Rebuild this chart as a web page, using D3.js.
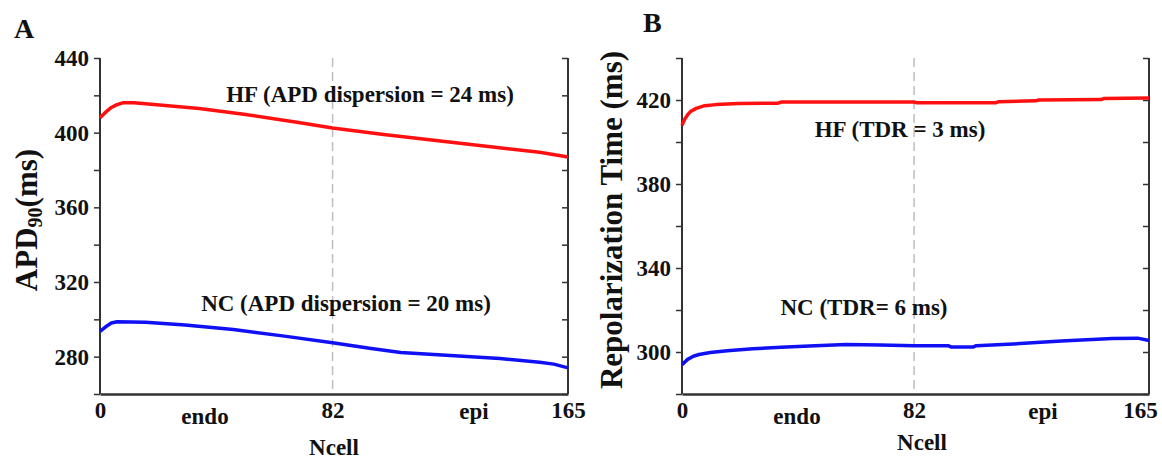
<!DOCTYPE html>
<html>
<head>
<meta charset="utf-8">
<script src="https://cdn.jsdelivr.net/npm/d3@7"></script>
<style>
    body { margin: 0; background: #fff; }
    svg text { font-family: 'Liberation Serif', 'Tinos', 'DejaVu Serif', serif; font-weight: bold; fill: #111; }
</style>
</head>
<body>
<svg id="chart" width="1162" height="459"></svg>
<script>

// panel A : APD90 along the strand
var apd_hf_cells = [0, 2, 4, 6, 8, 12, 20, 35, 50, 70, 82, 100, 120, 140, 155, 165];
var apd_hf = [408, 411, 413.5, 415, 416, 416, 415, 413, 410, 405.5, 402.5, 399, 395.5, 392, 389.5, 387];

var apd_nc_cells = [0, 2, 4, 6, 16, 30, 47, 65, 82, 95, 106, 125, 141, 155, 160, 165];
var apd_nc = [293.5, 296, 298, 298.7, 298.5, 297, 294.5, 291, 287.4, 284.5, 282.2, 280.5, 279, 277, 276, 274];

// panel B : repolarization time
var rt_hf_cells = [0, 1, 2, 3, 5, 8, 12, 20, 34, 35, 82, 83, 111, 112, 125, 126, 148, 149, 165];
var rt_hf = [408, 411, 413, 414.5, 416, 417.3, 417.8, 418.3, 418.5, 419, 419, 418.7, 418.7, 419.2, 419.6, 420, 420.2, 420.7, 420.9];

var rt_nc_cells = [0, 2, 4, 6, 10, 16, 25, 35, 45, 58, 70, 82, 94, 95, 103, 104, 117, 134, 152, 161, 165];
var rt_nc = [294, 296.5, 298, 298.8, 299.8, 300.6, 301.5, 302.3, 302.8, 303.6, 303.3, 303, 303, 302.4, 302.4, 303, 303.8, 305.2, 306.4, 306.6, 305.5];

var x_ticks = [0, 82, 165];
var apd_ticks = [280, 320, 360, 400, 440];
var rt_ticks = [300, 340, 380, 420];

var font_stack = "'Liberation Serif', 'Tinos', 'DejaVu Serif', serif";

var panels = [
    {
        'letter' : 'A',
        'x_range' : [100, 568],
        'y_domain' : [260, 440],
        'y_ticks' : apd_ticks,
        'minor' : d3.range(260, 441, 20),
        'series' : [
            { 'cells' : apd_hf_cells, 'vals' : apd_hf, 'color' : '#ff1010' },
            { 'cells' : apd_nc_cells, 'vals' : apd_nc, 'color' : '#1010f5' }
        ],
        'notes' : [
            { 'text' : 'HF (APD dispersion = 24 ms)', 'x' : 370, 'y' : 102 },
            { 'text' : 'NC (APD dispersion = 20 ms)', 'x' : 346, 'y' : 311 }
        ],
        'endo_x' : 205, 'epi_x' : 474, 'ncell_x' : 334, 'ncell_y' : 455,
        'letter_x' : 14, 'letter_y' : 38,
        'ylab_x' : 37, 'end_shift' : 0
    },
    {
        'letter' : 'B',
        'x_range' : [682, 1149],
        'y_domain' : [280, 440],
        'y_ticks' : rt_ticks,
        'minor' : d3.range(280, 441, 20),
        'series' : [
            { 'cells' : rt_hf_cells, 'vals' : rt_hf, 'color' : '#ff1010' },
            { 'cells' : rt_nc_cells, 'vals' : rt_nc, 'color' : '#1010f5' }
        ],
        'notes' : [
            { 'text' : 'HF (TDR = 3 ms)', 'x' : 900, 'y' : 137 },
            { 'text' : 'NC (TDR= 6 ms)', 'x' : 864, 'y' : 315 }
        ],
        'endo_x' : 797, 'epi_x' : 1043, 'ncell_x' : 922, 'ncell_y' : 450,
        'letter_x' : 643, 'letter_y' : 32,
        'ylab_x' : 622, 'end_shift' : -9
    }
];

var svg = d3.select('#chart');

var top_y = 58, bottom_y = 394;

function styleText(sel, size) {
    sel.style('font-size', size + 'px')
        .style('font-family', font_stack)
        .style('font-weight', 'bold')
        .attr('fill', '#111');
    return sel;
}

panels.forEach(function(p) {

    var x = d3.scaleLinear().domain([0, 165]).range(p.x_range);

    var y = d3.scaleLinear().domain(p.y_domain).range([bottom_y, top_y]);

    var g = svg.append('g');

    // dashed mid line at cell 82
    g.append('line')
        .attr('x1', x(82)).attr('x2', x(82))
        .attr('y1', top_y).attr('y2', bottom_y)
        .attr('stroke', '#bdbdbd')
        .attr('stroke-width', 1.5)
        .attr('stroke-dasharray', '9,5');

    // left axis, outward ticks
    var left = d3.axisLeft(y).tickValues(p.minor).tickSize(6).tickFormat(function(d) {
        return p.y_ticks.indexOf(d) >= 0 ? d : '';
    });

    var ga = g.append('g')
        .attr('transform', 'translate(' + p.x_range[0] + ',0)')
        .call(left);

    ga.select('.domain').remove();
    ga.append('line')
        .attr('x1', 0).attr('x2', 0)
        .attr('y1', top_y).attr('y2', bottom_y)
        .attr('stroke', '#333').attr('stroke-width', 2);
    ga.selectAll('.tick line').attr('stroke', '#333').attr('stroke-width', 1.5);
    styleText(ga.selectAll('.tick text').attr('x', -11), 23);

    // right axis, ticks pointing inward
    var gr = g.append('g')
        .attr('transform', 'translate(' + p.x_range[1] + ',0)')
        .call(d3.axisLeft(y).tickValues(p.minor).tickSize(6).tickFormat(''));

    gr.select('.domain').remove();
    gr.append('line')
        .attr('x1', 0).attr('x2', 0)
        .attr('y1', top_y).attr('y2', bottom_y)
        .attr('stroke', '#333').attr('stroke-width', 2);
    gr.selectAll('.tick line').attr('stroke', '#333').attr('stroke-width', 1.5);

    // bottom axis
    var gb = g.append('g')
        .attr('transform', 'translate(0,' + bottom_y + ')')
        .call(d3.axisBottom(x).tickValues(x_ticks).tickSize(0).tickFormat(d3.format('d')));

    gb.select('.domain').attr('stroke', '#333').attr('stroke-width', 2.5);
    styleText(gb.selectAll('.tick text').attr('y', 8).attr('dy', '0.71em'), 23);
    gb.selectAll('.tick text')
        .filter(function(d) { return d == 165; })
        .attr('x', p.end_shift);

    // curves
    var line = d3.line()
        .x(function(d) { return x(d[0]); })
        .y(function(d) { return y(d[1]); });

    p.series.forEach(function(s) {
        var pts = s.cells.map(function(c, i) { return [c, s.vals[i]]; });
        g.append('path')
            .datum(pts)
            .attr('d', line)
            .attr('fill', 'none')
            .attr('stroke', s.color)
            .attr('stroke-width', 3.5)
            .attr('stroke-linejoin', 'round');
    });

    p.notes.forEach(function(n) {
        styleText(g.append('text')
            .attr('x', n.x).attr('y', n.y)
            .attr('text-anchor', 'middle'), 23)
            .text(n.text);
    });

    styleText(g.append('text').attr('x', p.endo_x).attr('y', 424)
        .attr('text-anchor', 'middle'), 23).text('endo');

    styleText(g.append('text').attr('x', p.epi_x).attr('y', 419)
        .attr('text-anchor', 'middle'), 23).text('epi');

    styleText(g.append('text').attr('x', p.ncell_x).attr('y', p.ncell_y)
        .attr('text-anchor', 'middle'), 23).text('Ncell');

    styleText(g.append('text').attr('x', p.letter_x).attr('y', p.letter_y), 28).text(p.letter);

    var ylab = styleText(g.append('text')
        .attr('transform', 'translate(' + p.ylab_x + ',' + ((top_y + bottom_y) / 2 - 6) + ') rotate(-90)')
        .attr('text-anchor', 'middle'), 31);

    if (p.letter == 'A') {
        ylab.append('tspan').text('APD');
        ylab.append('tspan').attr('baseline-shift', '-25%').style('font-size', '20px').text('90');
        ylab.append('tspan').text('(ms)');
    } else {
        ylab.text('Repolarization Time (ms)');
    }

});

</script>
</body>
</html>
